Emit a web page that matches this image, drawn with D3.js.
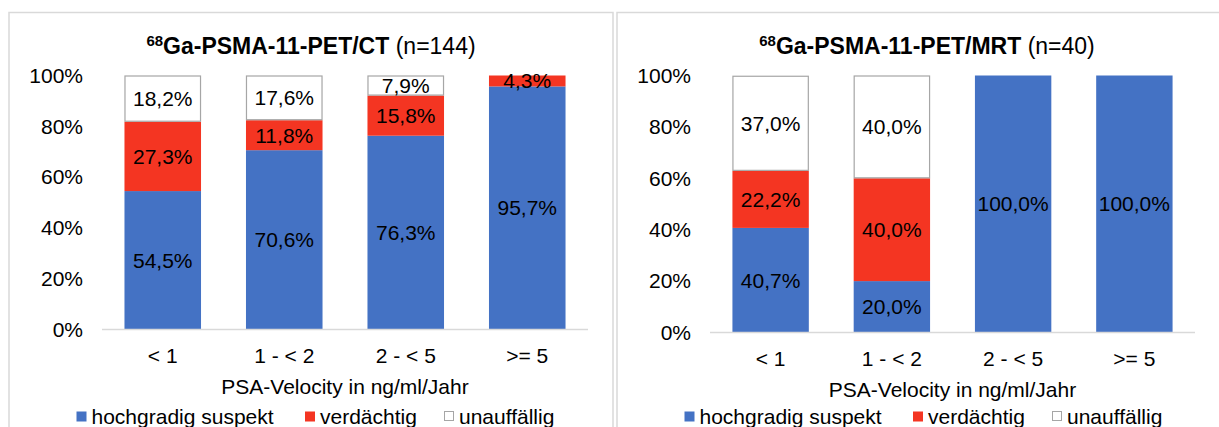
<!DOCTYPE html>
<html>
<head>
<meta charset="utf-8">
<script src="https://cdn.jsdelivr.net/npm/d3@7"></script>
<style>
  html, body { margin: 0; padding: 0; background: #fff; }
  svg { display: block; font-family: "Liberation Sans", Arial, sans-serif; }
</style>
</head>
<body>
<svg id="chart" width="1219" height="427"></svg>
<script>
// PSA-Velocity groups and the share of findings per group (in %)
const categories = ["< 1", "1 - < 2", "2 - < 5", ">= 5"];
const seriesNames = ["hochgradig suspekt", "verdächtig", "unauffällig"];

const ctHoch = [54.5, 70.6, 76.3, 95.7];
const ctVerd = [27.3, 11.8, 15.8, 4.3];
const ctUnauf = [18.2, 17.6, 7.9, 0];

const mrtHoch = [40.7, 20.0, 100.0, 100.0];
const mrtVerd = [22.2, 40.0, 0, 0];
const mrtUnauf = [37.0, 40.0, 0, 0];

const yTicks = [0, 20, 40, 60, 80, 100];
const xTitle = "PSA-Velocity in ng/ml/Jahr";

const colors = ["#4472C4", "#F43522", "#FFFFFF"];
const strokes = [null, null, "#A6A6A6"];

const FS = 21;
const svg = d3.select("#chart");
const fmt = v => v.toFixed(1).replace(".", ",") + "%";

function drawPanel(cfg) {
  const g = svg.append("g");

  // panel frame
  g.append("rect")
    .attr("x", cfg.px).attr("y", 12.5)
    .attr("width", cfg.pw).attr("height", 440)
    .attr("fill", "none").attr("stroke", "#D9D9D9").attr("stroke-width", 1.5);

  // title with superscript isotope mass
  const t = g.append("text")
    .attr("x", cfg.px + cfg.pw / 2).attr("y", 54)
    .attr("text-anchor", "middle").attr("font-size", 23).attr("fill", "#000");
  t.append("tspan").attr("font-size", 15).attr("font-weight", "bold").attr("dy", -8).text("68");
  t.append("tspan").attr("font-weight", "bold").attr("dy", 8).text(cfg.title);
  t.append("tspan").text(" " + cfg.n);

  const x = d3.scaleBand().domain(categories)
    .range([cfg.x0, cfg.x1]).paddingInner(0.37).paddingOuter(0.185);
  const y = d3.scaleLinear().domain([0, 100]).range([cfg.yb, 75.5]);

  // stacked data
  const rows = categories.map((c, i) => {
    const row = { cat: c };
    seriesNames.forEach((s, k) => row[s] = cfg.values[k][i]);
    return row;
  });
  const stack = d3.stack().keys(seriesNames)(rows);

  stack.forEach((layer, k) => {
    g.append("g").selectAll("rect").data(layer).join("rect")
      .attr("x", d => x(d.data.cat) + (strokes[k] ? 0.5 : 0))
      .attr("width", x.bandwidth() - (strokes[k] ? 1 : 0))
      .attr("y", d => y(d[1]) + (strokes[k] ? 0.5 : 0))
      .attr("height", d => Math.max(0, y(d[0]) - y(d[1]) - (strokes[k] ? 1 : 0)))
      .attr("fill", colors[k])
      .attr("stroke", strokes[k] || "none")
      .attr("stroke-width", strokes[k] ? 1.2 : 0);
  });

  // value labels in the middle of each segment
  stack.forEach((layer, k) => {
    g.append("g").selectAll("text").data(layer.filter(d => d[1] - d[0] > 0)).join("text")
      .attr("x", d => x(d.data.cat) + x.bandwidth() / 2)
      .attr("y", d => y((d[0] + d[1]) / 2))
      .attr("dy", "0.35em")
      .attr("text-anchor", "middle")
      .attr("font-size", FS).attr("fill", "#000")
      .text(d => fmt(d[1] - d[0]));
  });

  // baseline
  g.append("line")
    .attr("x1", cfg.x0).attr("x2", cfg.x1)
    .attr("y1", cfg.yb).attr("y2", cfg.yb)
    .attr("stroke", "#D9D9D9").attr("stroke-width", 1.5);

  // y axis labels
  const yAxis = d3.axisLeft(y).tickValues(yTicks).tickFormat(d => d + "%").tickSize(0).tickPadding(0);
  const ya = g.append("g").attr("transform", `translate(${cfg.x0 - 19},0)`).call(yAxis);
  ya.select(".domain").remove();
  ya.selectAll("text").attr("font-size", FS).attr("fill", "#000")
    .attr("font-family", "Liberation Sans, Arial, sans-serif");

  // x axis labels
  const xAxis = d3.axisBottom(x).tickSize(0).tickPadding(0);
  const xa = g.append("g").attr("transform", `translate(0,${cfg.yb + 26})`).call(xAxis);
  xa.select(".domain").remove();
  xa.selectAll("text").attr("dy", "0.35em").attr("font-size", FS).attr("fill", "#000")
    .attr("font-family", "Liberation Sans, Arial, sans-serif");

  // axis title
  g.append("text")
    .attr("x", (cfg.x0 + cfg.x1) / 2).attr("y", cfg.yb + 57).attr("dy", "0.35em")
    .attr("text-anchor", "middle").attr("font-size", FS).attr("fill", "#000")
    .text(xTitle);

  // legend
  const legOffsets = [67.5, 296, 435];
  seriesNames.forEach((s, k) => {
    const lx = cfg.px + legOffsets[k];
    g.append("rect")
      .attr("x", lx + (strokes[k] ? 0.5 : 0)).attr("y", 411.5)
      .attr("width", 10 - (strokes[k] ? 1 : 0)).attr("height", 10 - (strokes[k] ? 1 : 0))
      .attr("fill", colors[k]).attr("stroke", strokes[k] || "none");
    g.append("text")
      .attr("x", lx + 15).attr("y", 416.5).attr("dy", "0.35em")
      .attr("font-size", FS).attr("fill", "#000").text(s);
  });
}

drawPanel({
  px: 9, pw: 604, title: "Ga-PSMA-11-PET/CT", n: "(n=144)",
  x0: 102, x1: 588, yb: 329.5,
  values: [ctHoch, ctVerd, ctUnauf]
});
drawPanel({
  px: 617, pw: 620, title: "Ga-PSMA-11-PET/MRT", n: "(n=40)",
  x0: 710, x1: 1195, yb: 332.5,
  values: [mrtHoch, mrtVerd, mrtUnauf]
});
</script>
</body>
</html>
